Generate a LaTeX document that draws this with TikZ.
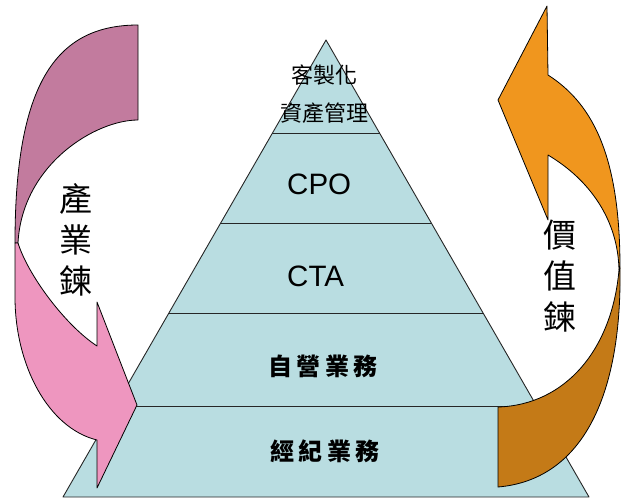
\documentclass[tikz,border=0pt]{standalone}
\usepackage{fontspec}
\setmainfont{Liberation Sans}
\newfontfamily\cjk{Noto Sans CJK TC}
\usetikzlibrary{calc}
\definecolor{pyr}{HTML}{B9DDE1}
\definecolor{pinkdark}{HTML}{C27B9E}
\definecolor{pinklight}{HTML}{EE96BF}
\definecolor{orlight}{HTML}{F0961E}
\definecolor{ordark}{HTML}{C47A17}
\tikzset{
  pline/.style={draw=black!85, line width=0.9pt},
  arrowpart/.style={draw=black, line width=0.8pt, line join=round},
  lbl/.style={inner sep=0pt, text=black},
  toplbl/.style={lbl, font=\cjk\fontsize{22}{26}\selectfont},
  latinlbl/.style={lbl, font=\fontsize{29.5}{32}\selectfont, anchor=west},
  bandlbl/.style={lbl, font=\cjk\bfseries\fontsize{24}{28}\selectfont},
  vertlbl/.style={lbl, align=center, font=\cjk\fontsize{33}{41}\selectfont}
}
\newcommand{\chsp}{\hspace{4.5pt}}
\begin{document}
\begin{tikzpicture}[x=1pt,y=-1pt]
\useasboundingbox (0,0) rectangle (627,499);
% pyramid
\coordinate (apex) at (326,40);
\coordinate (bl) at (63,497);
\coordinate (br) at (589,497);
\fill[pyr] (apex) -- (bl) -- (br) -- cycle;
\coordinate (l1) at ($(apex)!0.2035!(bl)$);
\coordinate (r1) at ($(apex)!0.2035!(br)$);
\coordinate (l2) at ($(apex)!0.4004!(bl)$);
\coordinate (r2) at ($(apex)!0.4004!(br)$);
\coordinate (l3) at ($(apex)!0.5973!(bl)$);
\coordinate (r3) at ($(apex)!0.5973!(br)$);
\coordinate (l4) at ($(apex)!0.8009!(bl)$);
\coordinate (r4) at ($(apex)!0.8009!(br)$);
\draw[pline] (l1) -- (r1);
\draw[pline] (l2) -- (r2);
\draw[pline] (l3) -- (r3);
\draw[pline] (l4) -- (r4);
\draw[pline, line join=round] (apex) -- (bl) -- (br) -- cycle;
% texts in pyramid
\node[toplbl] (t1) at (324,75) {客製化};
\node[toplbl] (t2) at (324,113) {資產管理};
\node[latinlbl] (cpo) at (287,184) {CPO};
\node[latinlbl] (cta) at (287,276) {CTA};
\node[bandlbl] (zy) at (323,366) {自\chsp 營\chsp 業\chsp 務};
\node[bandlbl] (jj) at (325,451) {經\chsp 紀\chsp 業\chsp 務};
% left arrow (pink)
\filldraw[arrowpart, fill=pinkdark] (138,25) .. controls (55,25) and (15,85) .. (15,243)
  -- (18,243) .. controls (22,165) and (95,120) .. (138,120) -- cycle;
\filldraw[arrowpart, fill=pinklight] (15,243) -- (15,297) .. controls (15,365) and (48,428) .. (97,440)
  -- (97,488) -- (137,405) -- (97,302) -- (97,346)
  .. controls (65,325) and (28,275) .. (18,243) -- cycle;
% right arrow (orange)
\filldraw[arrowpart, fill=orlight] (547,6) -- (498,100) -- (548,220) -- (548,155)
  .. controls (590,180) and (618,220) .. (619,270) -- (620,268)
  .. controls (620,160) and (595,105) .. (548,75) -- cycle;
\filldraw[arrowpart, fill=ordark] (620,268) .. controls (622,400) and (580,480) .. (498,487)
  -- (498,407) .. controls (565,405) and (612,350) .. (619,270) -- cycle;
% vertical labels
\node[vertlbl] (ind) at (76,240) {產\\業\\鍊};
\node[vertlbl] (val) at (560,276) {價\\值\\鍊};
\end{tikzpicture}
\end{document}
